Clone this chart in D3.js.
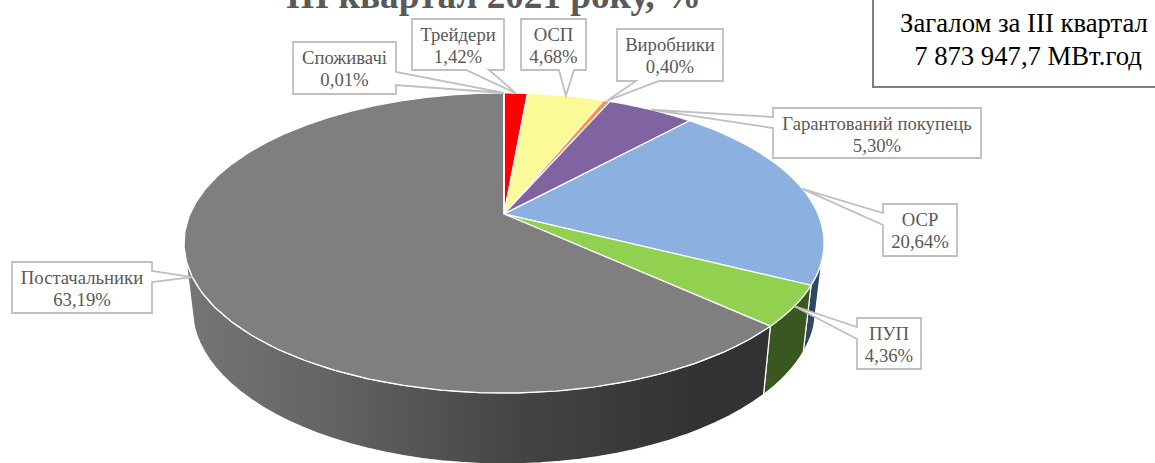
<!DOCTYPE html>
<html>
<head>
<meta charset="utf-8">
<script src="https://cdn.jsdelivr.net/npm/d3@7"></script>
<style>
  html, body { margin: 0; padding: 0; background: #fff; }
  svg { display: block; }
  text { font-family: "Liberation Serif", serif; }
</style>
</head>
<body>
<div id="chart"></div>
<script>
  /*
    Data
  */
  const categories = ['Трейдери', 'ОСП', 'Виробники', 'Гарантований покупець', 'ОСР', 'ПУП', 'Постачальники', 'Споживачі'];
  const shares = [1.42, 4.68, 0.40, 5.30, 20.64, 4.36, 63.19, 0.01];
  const shareLabels = ['1,42%', '4,68%', '0,40%', '5,30%', '20,64%', '4,36%', '63,19%', '0,01%'];
  const topColors = ['#ff0000', '#fbfa98', '#f79646', '#8064a2', '#8cb1e0', '#92d050', '#7f7f7f', '#4bacc6'];
  const sideColors = ['#7f0000', '#7d7d4c', '#7b4b23', '#403251', '#2f4664', '#3b5720', 'url(#grayWall)', '#25565f'];

  const titleText = 'ІІІ квартал 2021 року, %';
  const totalLines = ['Загалом за ІІІ квартал', '7 873 947,7 МВт.год'];

  // label boxes [x, y, w, h], same order as categories
  const boxes = [
    [412, 19, 92, 51], [521, 19, 65, 51], [617, 29, 106, 52], [773, 108, 208, 50],
    [883, 204, 74, 52], [857, 318, 64, 51], [12, 262, 140, 51], [293, 42, 103, 52]
  ];
  // where the callout leaves the box: two points on its edge
  const roots = [
    [[466, 70], [489, 70]], [[559, 70], [574, 70]], [[636, 81], [659, 81]], [[773, 117], [773, 128]],
    [[883, 213], [883, 225]], [[857, 327], [857, 339]], [[152, 271], [152, 282]], [[396, 72], [396, 85]]
  ];

  /*
    Perspective of the pie

    project(angle): top face, angle clockwise from 12 o'clock
    projectBottom(angle): same for the lower rim of the wall
  */
  const width = 1155, height = 463;
  const cx = 504, cy = 214, tilt = 0.1933;
  const rx = 314, ry = 144.4;
  const rxLow = 306, ryLow = 150, lowDrop = 64;

  function project(a, r) {
    if (r === undefined) r = 1;
    let u = Math.sin(a) * r, v = -Math.cos(a) * r, w = 1 - tilt * v;
    return [cx + rx * u / w, cy + ry * v / w];
  }

  function projectBottom(a) {
    let u = Math.sin(a), v = -Math.cos(a), w = 1 - tilt * v;
    return [cx + rxLow * u / w, cy + lowDrop + ryLow * v / w];
  }

  function steps(a0, a1) {
    return d3.range(0, 41).map(i => a0 + (a1 - a0) * i / 40);
  }

  let svg = d3.select('#chart').append('svg').attr('width', width).attr('height', height);

  let grad = svg.append('defs').append('linearGradient')
    .attr('id', 'grayWall')
    .attr('gradientUnits', 'userSpaceOnUse')
    .attr('x1', 185).attr('x2', 700).attr('y1', 0).attr('y2', 0);
  grad.append('stop').attr('offset', 0).attr('stop-color', '#767676');
  grad.append('stop').attr('offset', 0.3).attr('stop-color', '#626262');
  grad.append('stop').attr('offset', 0.65).attr('stop-color', '#444444');
  grad.append('stop').attr('offset', 1).attr('stop-color', '#323232');

  let slices = d3.pie().sort(null).value(d => d)(shares);
  let line = d3.line();

  /*
    Walls first, only the part of the rim that faces us
  */
  const wallFrom = Math.PI - Math.acos(0.3), wallTo = Math.PI + Math.acos(0.3);
  slices.forEach(function (s, i) {
    let a0 = Math.max(s.startAngle, wallFrom), a1 = Math.min(s.endAngle, wallTo);
    if (a1 <= a0) return;
    let pts = steps(a0, a1);
    let outline = pts.map(a => project(a)).concat(pts.slice().reverse().map(projectBottom));
    svg.append('path')
      .attr('d', line(outline) + 'Z')
      .attr('fill', sideColors[i])
      .attr('stroke', '#fff')
      .attr('stroke-width', 1.2)
      .attr('stroke-linejoin', 'round');
  });

  /*
    Top face
  */
  slices.forEach(function (s, i) {
    let outline = [[cx, cy]].concat(steps(s.startAngle, s.endAngle).map(a => project(a)));
    svg.append('path')
      .attr('d', line(outline) + 'Z')
      .attr('fill', topColors[i])
      .attr('stroke', '#fff')
      .attr('stroke-width', 1.2)
      .attr('stroke-linejoin', 'round');
  });

  /*
    Callout labels, the tip sits on the rim at the middle of the slice
  */
  slices.forEach(function (s, i) {
    let b = boxes[i], rt = roots[i];
    let tip = project((s.startAngle + s.endAngle) / 2);
    let x0 = b[0], y0 = b[1], x1 = b[0] + b[2], y1 = b[1] + b[3];
    let outline;
    if (rt[0][0] === rt[1][0] && rt[0][0] === x1) {
      outline = [[x0, y0], [x1, y0], rt[0], tip, rt[1], [x1, y1], [x0, y1]];
    } else if (rt[0][0] === rt[1][0]) {
      outline = [[x0, y0], [x1, y0], [x1, y1], [x0, y1], rt[1], tip, rt[0]];
    } else {
      outline = [[x0, y0], [x1, y0], [x1, y1], rt[1], tip, rt[0], [x0, y1]];
    }
    svg.append('path')
      .attr('d', line(outline) + 'Z')
      .attr('fill', '#fff')
      .attr('stroke', '#bfbfbf')
      .attr('stroke-width', 1.8);

    svg.append('text')
      .attr('x', x0 + b[2] / 2).attr('y', y0 + 21.5)
      .attr('text-anchor', 'middle')
      .attr('font-size', 18.7)
      .attr('fill', '#595959')
      .text(categories[i]);
    svg.append('text')
      .attr('x', x0 + b[2] / 2).attr('y', y0 + 43.5)
      .attr('text-anchor', 'middle')
      .attr('font-size', 18.7)
      .attr('fill', '#595959')
      .text(shareLabels[i]);
  });

  /*
    Title and total box, both cut by the top of the picture
  */
  svg.append('text')
    .attr('x', 493.5).attr('y', 8)
    .attr('text-anchor', 'middle')
    .attr('font-size', 37.2)
    .attr('font-weight', 'bold')
    .attr('fill', '#595959')
    .text(titleText);

  svg.append('path')
    .attr('d', line([[873, 0], [873, 87], [1155, 87]]))
    .attr('fill', 'none')
    .attr('stroke', '#7f7f7f')
    .attr('stroke-width', 2);

  svg.append('text')
    .attr('x', 1024).attr('y', 32)
    .attr('text-anchor', 'middle')
    .attr('font-size', 26.7)
    .attr('fill', '#000')
    .text(totalLines[0]);
  svg.append('text')
    .attr('x', 1028).attr('y', 65)
    .attr('text-anchor', 'middle')
    .attr('font-size', 26.7)
    .attr('fill', '#000')
    .text(totalLines[1]);
</script>
</body>
</html>
